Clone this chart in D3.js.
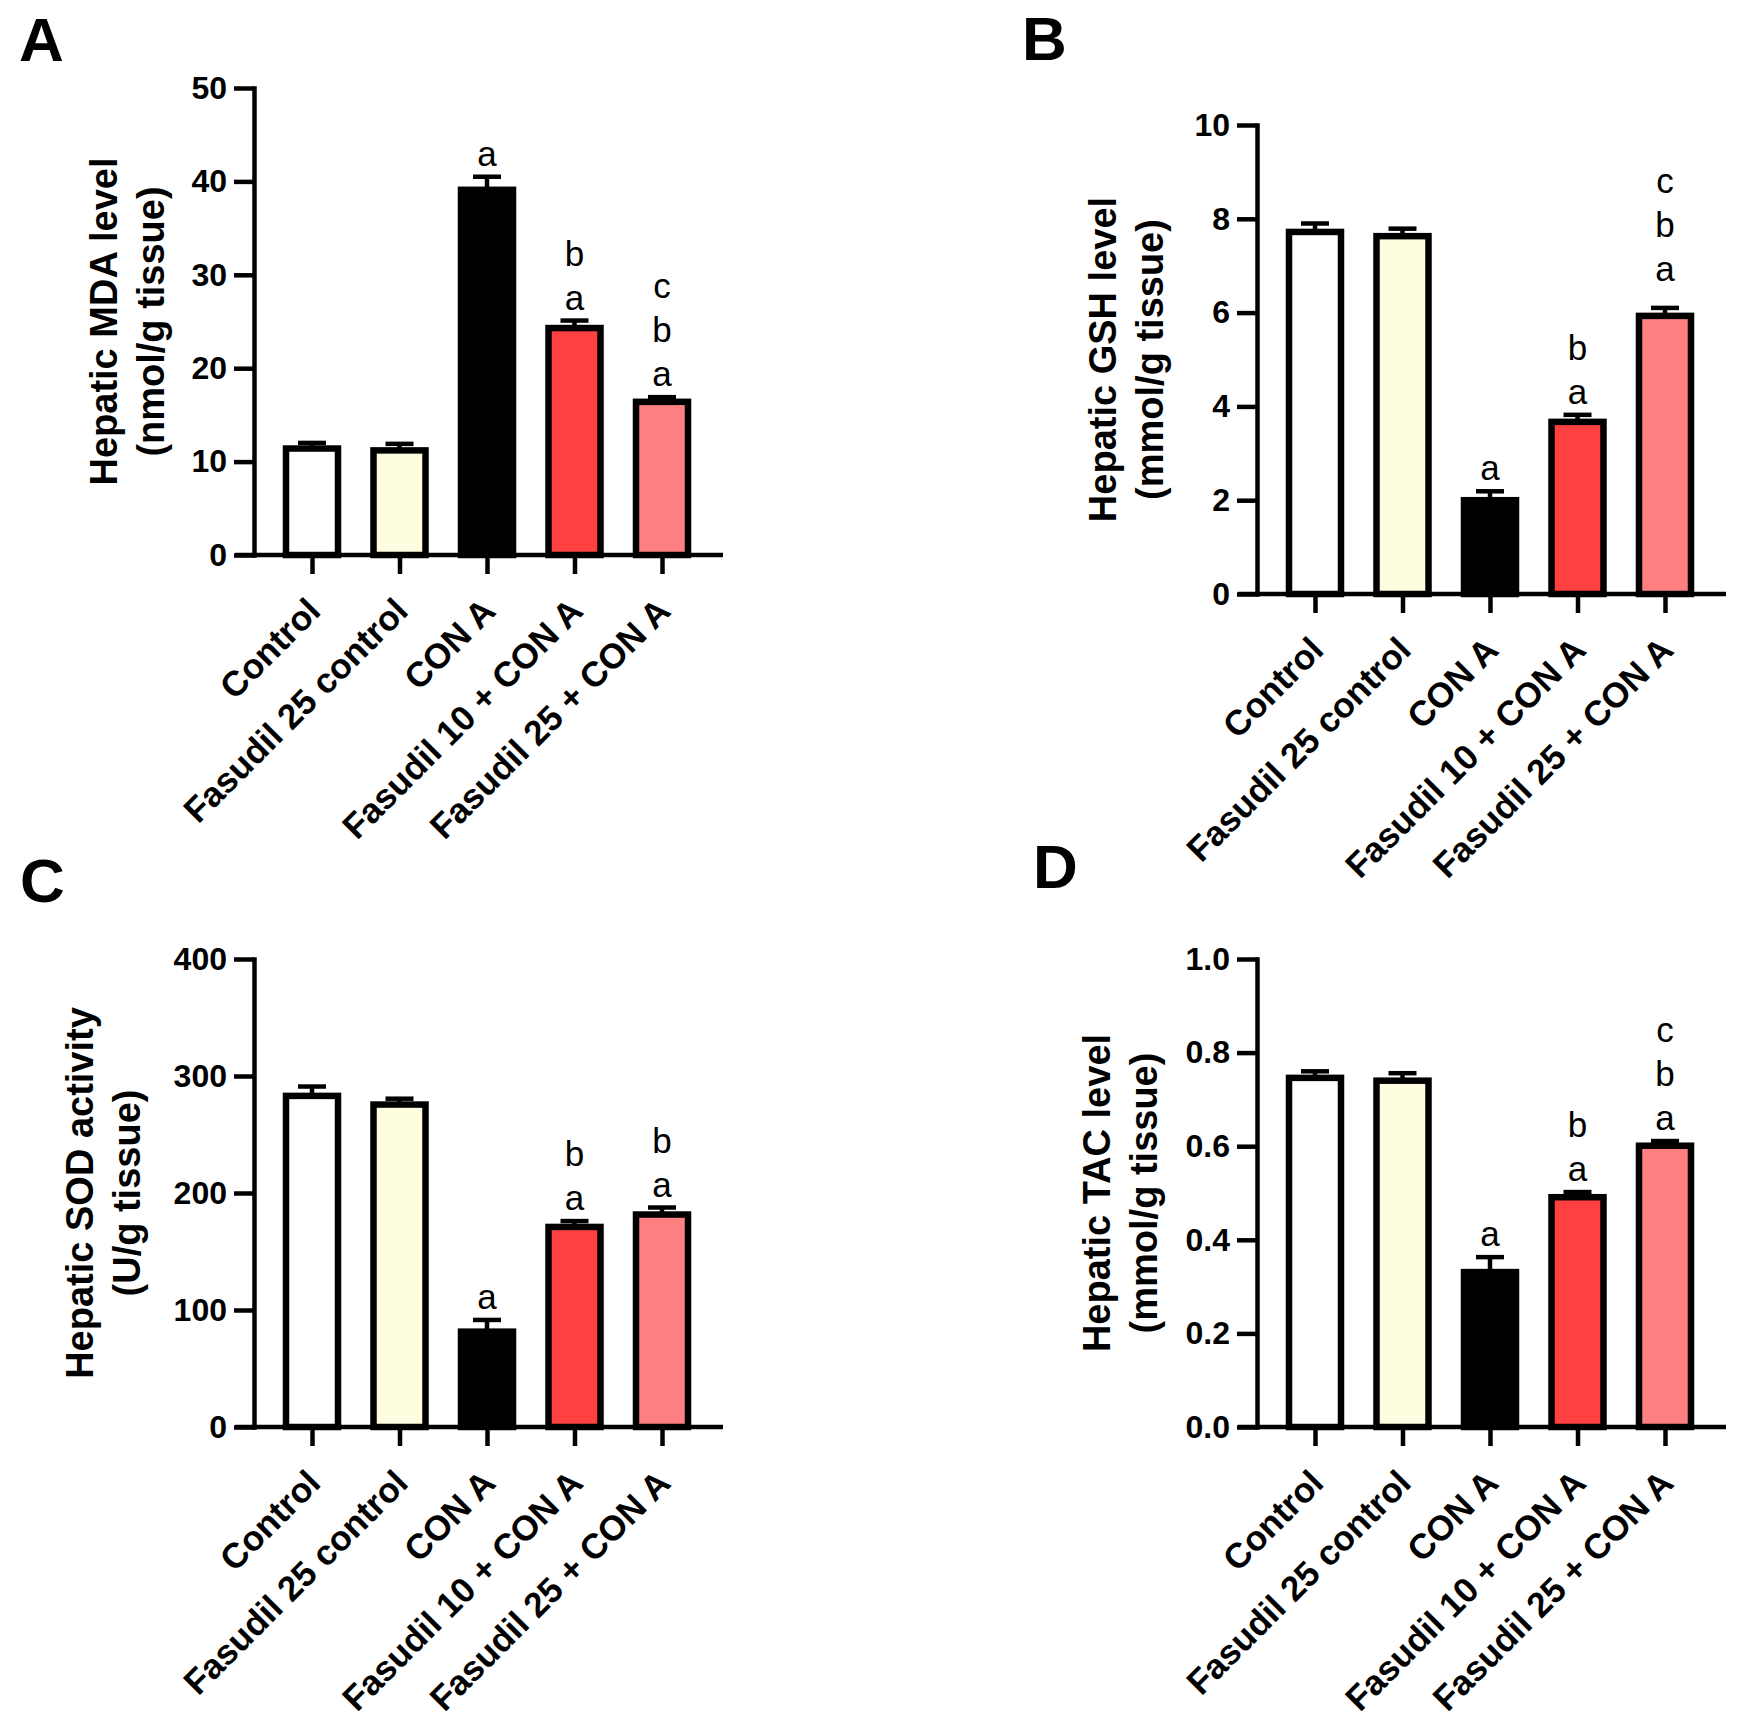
<!DOCTYPE html>
<html lang="en">
<head>
<meta charset="utf-8">
<style>
  body { margin: 0; background: #fff; }
  svg { display: block; font-family: Arial, "Liberation Sans", Helvetica, sans-serif; }
</style>
</head>
<body>
<script src="https://d3js.org/d3.v7.min.js"></script>
<script>
// groups and bar fills
var categories = ["Control", "Fasudil 25 control", "CON A", "Fasudil 10 + CON A", "Fasudil 25 + CON A"];
var barColors = ["#ffffff", "#fffde0", "#000000", "#ff4040", "#ff8080"];

// A - hepatic MDA (nmol/g tissue)
var mdaMean = [11.4, 11.2, 39.1, 24.3, 16.4];
var mdaSem = [0.6, 0.7, 1.4, 0.8, 0.5];
var mdaLetters = ["", "", "a", "ab", "abc"];
var mdaTicks = [0, 10, 20, 30, 40, 50];

// B - hepatic GSH (mmol/g tissue)
var gshMean = [7.72, 7.63, 2.0, 3.67, 5.93];
var gshSem = [0.18, 0.16, 0.19, 0.15, 0.17];
var gshLetters = ["", "", "a", "ab", "abc"];
var gshTicks = [0, 2, 4, 6, 8, 10];

// C - hepatic SOD activity (U/g tissue)
var sodMean = [283, 275.6, 81.5, 171, 181.6];
var sodSem = [8, 5, 10, 5, 6];
var sodLetters = ["", "", "a", "ab", "ab"];
var sodTicks = [0, 100, 200, 300, 400];

// D - hepatic TAC (mmol/g tissue)
var tacMean = [0.746, 0.740, 0.331, 0.491, 0.601];
var tacSem = [0.014, 0.016, 0.032, 0.011, 0.010];
var tacLetters = ["", "", "a", "ab", "abc"];
var tacTicks = [0, 0.2, 0.4, 0.6, 0.8, 1.0];

var width = 1739, height = 1724;
var step = 87.5, barW = 52;

var svg = d3.select("body").append("svg")
    .attr("width", width)
    .attr("height", height);

svg.append("rect").attr("width", width).attr("height", height).attr("fill", "#fff");

function drawPanel(p, mean, sem, letters) {
    var g = svg.append("g");

    var y = d3.scaleLinear().domain([0, p.max]).range([p.y0, p.yTop]);
    var x = d3.scalePoint().domain(categories)
        .range([p.x0 + 58, p.x0 + 58 + (categories.length - 1) * step]);

    // y axis
    var ya = g.append("g")
        .attr("transform", "translate(" + p.x0 + ",0)")
        .call(d3.axisLeft(y).tickValues(p.ticks).tickFormat(p.fmt)
            .tickSize(20).tickSizeOuter(0).tickPadding(7));
    ya.select(".domain").attr("stroke-width", 4.5).attr("stroke-linecap", "square");
    ya.selectAll(".tick line").attr("stroke-width", 4.5);
    ya.selectAll(".tick text")
        .attr("font-size", 32).attr("font-weight", "bold")
        .attr("font-family", "Arial, 'Liberation Sans', sans-serif")
        .attr("fill", "#000");

    // x axis
    var xa = g.append("g")
        .attr("transform", "translate(0," + p.y0 + ")")
        .call(d3.axisBottom(x).tickSize(19).tickSizeOuter(0));
    xa.select(".domain")
        .attr("d", "M" + (p.x0 - 19) + ",0H" + (x(categories[categories.length - 1]) + 61))
        .attr("stroke-width", 4.5);
    xa.selectAll(".tick line").attr("stroke-width", 4.5);
    xa.selectAll(".tick text")
        .attr("x", 0).attr("y", 0).attr("dy", 0)
        .attr("transform", "translate(10,58) rotate(-45)")
        .attr("text-anchor", "end")
        .attr("font-size", 35).attr("font-weight", "bold")
        .attr("font-family", "Arial, 'Liberation Sans', sans-serif")
        .attr("fill", "#000");

    // error bars (drawn first, bar outline sits over the base)
    var eb = g.append("g").attr("stroke", "#000").attr("stroke-width", 4.5);
    categories.forEach(function (c, i) {
        var top = y(mean[i] + sem[i]);
        eb.append("line").attr("x1", x(c)).attr("x2", x(c))
            .attr("y1", y(mean[i])).attr("y2", top);
        eb.append("line").attr("x1", x(c) - 14).attr("x2", x(c) + 14)
            .attr("y1", top).attr("y2", top);
    });

    // bars
    g.selectAll("rect.bar")
        .data(mean)
        .enter()
        .append("rect")
        .attr("class", "bar")
        .attr("x", function (d, i) { return x(categories[i]) - barW / 2; })
        .attr("width", barW)
        .attr("y", function (d) { return y(d); })
        .attr("height", function (d) { return p.y0 - y(d); })
        .attr("fill", function (d, i) { return barColors[i]; })
        .attr("stroke", "#000")
        .attr("stroke-width", 6.5);

    // significance letters, stacked from the error bar upwards
    categories.forEach(function (c, i) {
        var lift = p.lift ? p.lift[i] : 0;
        letters[i].split("").forEach(function (ch, j) {
            g.append("text")
                .attr("x", x(c))
                .attr("y", y(mean[i] + sem[i]) - 11 - lift - j * 44)
                .attr("text-anchor", "middle")
                .attr("font-size", 35)
                .text(ch);
        });
    });

    // axis title
    var t = g.append("text")
        .attr("transform", "translate(" + (p.x0 - p.titleOff) + "," + ((p.y0 + p.yTop) / 2) + ") rotate(-90)")
        .attr("text-anchor", "middle")
        .attr("font-size", 38)
        .attr("font-weight", "bold");
    t.append("tspan").attr("x", 0).attr("dy", 0).text(p.title[0]);
    t.append("tspan").attr("x", 0).attr("dy", 47).text(p.title[1]);

    // panel letter
    g.append("text")
        .attr("x", p.lx).attr("y", p.ly)
        .attr("font-size", 62).attr("font-weight", "bold")
        .text(p.letter);
}

drawPanel({ letter: "A", lx: 19, ly: 61, x0: 254, y0: 555, yTop: 88, max: 50,
    ticks: mdaTicks, fmt: d3.format("d"), titleOff: 137,
    title: ["Hepatic MDA level", "(nmol/g tissue)"] }, mdaMean, mdaSem, mdaLetters);

drawPanel({ letter: "B", lx: 1022, ly: 60, x0: 1257, y0: 594, yTop: 125, max: 10,
    ticks: gshTicks, fmt: d3.format("d"), titleOff: 141, lift: [0, 0, 0, 0, 16],
    title: ["Hepatic GSH level", "(mmol/g tissue)"] }, gshMean, gshSem, gshLetters);

drawPanel({ letter: "C", lx: 20, ly: 902, x0: 254, y0: 1427, yTop: 959, max: 400,
    ticks: sodTicks, fmt: d3.format("d"), titleOff: 161,
    title: ["Hepatic SOD activity", "(U/g tissue)"] }, sodMean, sodSem, sodLetters);

drawPanel({ letter: "D", lx: 1033, ly: 888, x0: 1257, y0: 1427, yTop: 959, max: 1.0,
    ticks: tacTicks, fmt: d3.format(".1f"), titleOff: 147,
    title: ["Hepatic TAC level", "(mmol/g tissue)"] }, tacMean, tacSem, tacLetters);
</script>
</body>
</html>
